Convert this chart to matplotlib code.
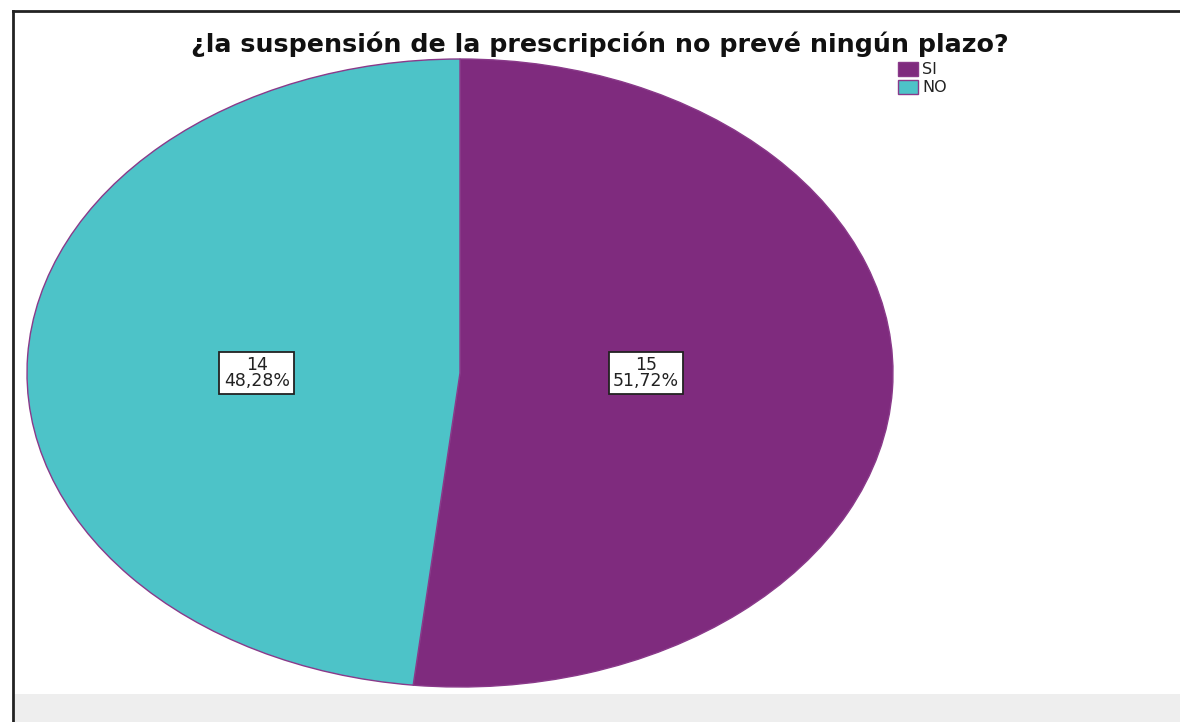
import numpy as np
import matplotlib.pyplot as plt
from matplotlib.patches import Rectangle
from matplotlib.lines import Line2D

categories = ["SI", "NO"]
counts = [15, 14]
colors = ["#7f2b7e", "#4dc3c8"]
title = "¿la suspensión de la prescripción no prevé ningún plazo?"

plt.rcParams["font.family"] = ["DejaVu Sans"]

W, H = 1180, 722
fig = plt.figure(figsize=(W / 100, H / 100), dpi=100)

# -------------------------
# Frame and grey footer strip
# -------------------------
fig.patches.append(Rectangle((15 / W, 0), 1 - 15 / W, 28 / H, transform=fig.transFigure,
                             facecolor="#eeeeee", edgecolor="none", zorder=0))
fig.add_artist(Line2D([13 / W, 13 / W], [0, 1 - 11 / H], transform=fig.transFigure,
                      color="#222222", lw=2))
fig.add_artist(Line2D([13 / W, 1], [1 - 11 / H, 1 - 11 / H], transform=fig.transFigure,
                      color="#222222", lw=2))

# -------------------------
# Pie (stretched into an ellipse)
# -------------------------
ax = fig.add_axes([27 / W, 35 / H, 866 / W, 628 / H])
wedges, _ = ax.pie(counts, colors=colors, startangle=90, counterclock=False,
                   wedgeprops=dict(edgecolor="#8a3a8a", linewidth=1))
ax.set_aspect("auto")
ax.set_xlim(-1, 1)
ax.set_ylim(-1, 1)
ax.axis("off")

total = sum(counts)
label_r = [0.43, 0.47]
for w, n, r in zip(wedges, counts, label_r):
    mid = np.deg2rad((w.theta1 + w.theta2) / 2)
    pct = f"{100 * n / total:.2f}".replace(".", ",")
    # labels sit on the horizontal centre line, as in the source chart
    ax.text(r * np.cos(mid), 0, f"{n}\n{pct}%", ha="center", va="center",
            fontsize=12.5, linespacing=0.85, color="#222222",
            bbox=dict(boxstyle="square,pad=0.25", facecolor="white", edgecolor="#222222", lw=1.3))

fig.text(600 / W, 1 - 44 / H, title, ha="center", va="center",
         fontsize=18.3, fontweight="bold", color="#111111")

# -------------------------
# Legend
# -------------------------
for i, (cat, col) in enumerate(zip(categories, colors)):
    y = 69 + i * 18
    fig.patches.append(Rectangle((898 / W, 1 - (y + 6.5) / H), 20 / W, 13 / H,
                                 transform=fig.transFigure, facecolor=col,
                                 edgecolor="#8a3a8a", lw=1))
    fig.text(922 / W, 1 - y / H, cat, ha="left", va="center", fontsize=11.5, color="#222222")

fig.savefig("out.png", dpi=100)
